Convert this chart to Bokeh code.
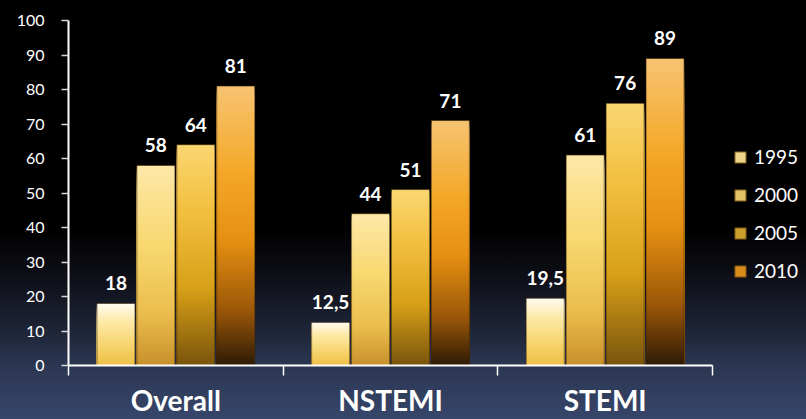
import numpy as np
from bokeh.plotting import figure
from bokeh.models import (ColumnDataSource, FixedTicker, Range1d, Legend,
                          LegendItem, LabelSet)
from bokeh.core.properties import value
from bokeh.embed import file_html
from bokeh.resources import INLINE

# ---------------- data ----------------
categories = ["Overall", "NSTEMI", "STEMI"]
years = ["1995", "2000", "2005", "2010"]
v1995 = [18, 12.5, 19.5]
v2000 = [58, 44, 61]
v2005 = [64, 51, 76]
v2010 = [81, 71, 89]
series = [v1995, v2000, v2005, v2010]
y_ticks = [0, 10, 20, 30, 40, 50, 60, 70, 80, 90, 100]

# ---------------- styling ----------------
# gradient stops (fraction from bar top, colour) per series
stops = [
    [(0.0, "#fffbef"), (0.3, "#fde9a6"), (0.7, "#f6d26a"), (1.0, "#eebf48")],
    [(0.0, "#fde8a8"), (0.4, "#f8d870"), (0.75, "#eabc4c"), (1.0, "#c8902c")],
    [(0.0, "#fbd672"), (0.3, "#f2c040"), (0.65, "#d8a018"), (1.0, "#7a540c")],
    [(0.0, "#f7c472"), (0.3, "#f4a82a"), (0.55, "#e69012"), (0.8, "#9c5808"), (1.0, "#2e1a05")],
]
legend_colors = ["#efd58a", "#e3c064", "#caa02a", "#d88c1a"]
spacing = 0.186
bar_w = 0.177
N = 90
n_cat = len(categories)
x_end = n_cat * (806 - 68) / 644.0   # frame runs to the right edge; axis is bounded


def hex2rgb(h):
    h = h.lstrip("#")
    return np.array([int(h[i:i + 2], 16) for i in (0, 2, 4)], dtype=float)


def interp(st, f):
    for (f0, c0), (f1, c1) in zip(st[:-1], st[1:]):
        if f0 <= f <= f1:
            t = (f - f0) / (f1 - f0) if f1 > f0 else 0
            c = hex2rgb(c0) * (1 - t) + hex2rgb(c1) * t
            return "#%02x%02x%02x" % tuple(int(round(x)) for x in c)
    return st[-1][1]


p = figure(width=806, height=419, output_backend="svg", toolbar_location=None,
           x_range=Range1d(0, x_end), y_range=Range1d(0, 100),
           min_border_left=68, min_border_right=0, min_border_top=20,
           min_border_bottom=54)
p.background_fill_alpha = 0
p.border_fill_alpha = 0
p.outline_line_color = None
p.styles = {"background": "linear-gradient(to bottom, #000000 0%, #000000 54%, "
                          "#0e0f17 66%, #1e2537 79%, #2b3651 87%, #36466a 100%)"}
p.xgrid.grid_line_color = None
p.ygrid.grid_line_color = None

legend_items = []
lab_x, lab_y, lab_t = [], [], []
for k, vals in enumerate(series):
    xs = [i + 0.5 + (k - 1.5) * spacing for i in range(n_cat)]
    bx, btop, bcol = [], [], []
    for j in range(N):
        f = (j + 0.5) / N
        col = interp(stops[k], f)
        for x, v in zip(xs, vals):
            bx.append(x)
            btop.append(v * (1 - j / N))
            bcol.append(col)
    src = ColumnDataSource(dict(x=bx, top=btop, color=bcol))
    p.vbar(x="x", top="top", bottom=0, width=bar_w, source=src,
           fill_color="color", line_color=None)
    # outline
    p.vbar(x=xs, top=vals, bottom=0, width=bar_w, fill_color=None,
           line_color="#3a2406", line_alpha=0.6, line_width=1)
    # legend swatch renderer (kept outside the visible range)
    r = p.vbar(x=[-10], top=[1], width=bar_w, fill_color=legend_colors[k],
               line_color="#6a4c14", line_width=1)
    legend_items.append(LegendItem(label=years[k], renderers=[r]))
    for x, v in zip(xs, vals):
        lab_x.append(x)
        lab_y.append(v)
        lab_t.append(("%g" % v).replace(".", ","))

labels = LabelSet(x="x", y="y", text="t",
                  source=ColumnDataSource(dict(x=lab_x, y=lab_y, t=lab_t)),
                  text_align="center", text_baseline="alphabetic", y_offset=13,
                  text_color="white", text_font=value("Lato"),
                  text_font_style="bold", text_font_size="19px")
p.add_layout(labels)

legend = Legend(items=legend_items, location=(665, 83), orientation="vertical",
                glyph_width=14, glyph_height=14, label_standoff=7, spacing=15,
                padding=0, margin=0, border_line_color=None,
                background_fill_alpha=0, label_text_color="white",
                label_text_font="Lato", label_text_font_size="19px",
                label_height=20)
p.add_layout(legend)

# x axis
xa = p.xaxis[0]
xa.bounds = (0, n_cat)
xa.ticker = FixedTicker(ticks=[i + 0.5 for i in range(n_cat)],
                        minor_ticks=[i for i in range(n_cat + 1)])
xa.major_label_overrides = {i + 0.5: c for i, c in enumerate(categories)}
xa.major_tick_line_color = None
xa.major_tick_out = 0
xa.major_tick_in = 0
xa.minor_tick_in = 0
xa.minor_tick_out = 10
xa.minor_tick_line_color = "white"
xa.minor_tick_line_width = 1.5
xa.axis_line_color = "white"
xa.axis_line_width = 2
xa.major_label_text_color = "white"
xa.major_label_text_font = "Lato"
xa.major_label_text_font_style = "bold"
xa.major_label_text_font_size = "28px"
xa.major_label_standoff = 7

# y axis
ya = p.yaxis[0]
ya.ticker = FixedTicker(ticks=y_ticks, minor_ticks=[])
ya.major_tick_out = 7
ya.major_tick_in = 0
ya.major_tick_line_color = "#d8d8d8"
ya.major_tick_line_width = 1.5
ya.axis_line_color = "white"
ya.axis_line_width = 2
ya.major_label_text_color = "white"
ya.major_label_text_font = "Lato"
ya.major_label_text_font_size = "16px"
ya.major_label_standoff = 17

open("out.html", "w").write(file_html(p, INLINE))
